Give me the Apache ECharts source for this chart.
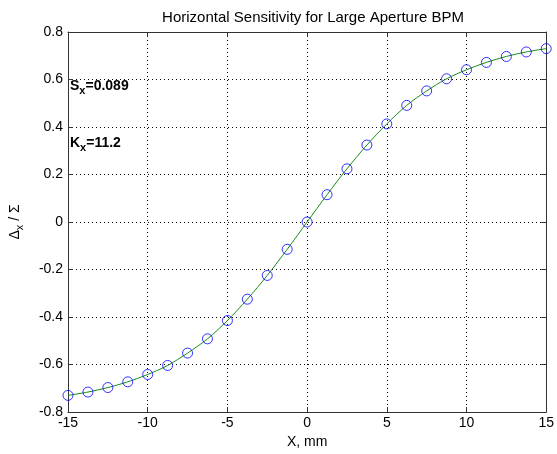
<!DOCTYPE html>
<html>
<head>
<meta charset="utf-8">
<script src="https://cdn.jsdelivr.net/npm/echarts@6/dist/echarts.min.js"></script>
<style>
html,body{margin:0;padding:0;background:#fff;}
#c{width:557px;height:454px;}
</style>
</head>
<body>
<div id="c"></div>
<script>
const xValues = [-15, -13.75, -12.5, -11.25, -10, -8.75, -7.5, -6.25, -5, -3.75, -2.5, -1.25, 0, 1.25, 2.5, 3.75, 5, 6.25, 7.5, 8.75, 10, 11.25, 12.5, 13.75, 15];
const yValues = [-0.730, -0.716, -0.697, -0.673, -0.642, -0.604, -0.552, -0.492, -0.415, -0.325, -0.225, -0.115, 0.000, 0.115, 0.224, 0.324, 0.413, 0.491, 0.552, 0.603, 0.641, 0.672, 0.697, 0.716, 0.730];
const titleText = 'Horizontal Sensitivity for Large Aperture BPM';
const xName = 'X, mm';
const sxText = '0.089';
const kxText = '11.2';

const pts = xValues.map((x, i) => [x, yValues[i]]);
const FONT = '"Liberation Sans", Arial, sans-serif';
const chart = echarts.init(document.getElementById('c'));

const baseX = {
  type: 'value', min: -15, max: 15, interval: 5,
  axisLine: {show: true, onZero: false, lineStyle: {color: '#333', width: 1}},
  axisTick: {show: true, inside: true, length: 5, lineStyle: {color: '#333'}},
  splitLine: {show: false}
};
const baseY = {
  type: 'value', min: -0.8, max: 0.8, interval: 0.2,
  axisLine: {show: true, onZero: false, lineStyle: {color: '#333', width: 1}},
  axisTick: {show: true, inside: true, length: 5, lineStyle: {color: '#333'}},
  splitLine: {show: false}
};

chart.setOption({
  backgroundColor: '#fff',
  animation: false,
  title: {
    text: titleText, left: 308, top: 5, textAlign: 'center',
    textStyle: {fontFamily: FONT, fontSize: 15, fontWeight: 'normal', color: '#000'}
  },
  grid: {left: 67, right: 6, top: 32, bottom: 42},
  xAxis: [
    Object.assign({}, baseX, {
      position: 'bottom',
      name: xName, nameLocation: 'middle', nameGap: 22,
      nameTextStyle: {fontFamily: FONT, fontSize: 14, color: '#000'},
      axisLabel: {fontFamily: FONT, fontSize: 14, color: '#000', margin: 4},
      splitLine: {show: true, lineStyle: {color: '#000', type: [1, 3], width: 1}}
    }),
    Object.assign({}, baseX, {position: 'top', axisLabel: {show: false}})
  ],
  yAxis: [
    Object.assign({}, baseY, {
      position: 'left',
      name: '{a|Δ}{s|x}{a| / Σ}', nameLocation: 'middle', nameGap: 43, nameRotate: 90,
      nameTextStyle: {
        rich: {
          a: {fontFamily: FONT, fontSize: 14, color: '#000'},
          s: {fontFamily: FONT, fontSize: 11, color: '#000', padding: [9, 0, 0, 0]}
        }
      },
      axisLabel: {fontFamily: FONT, fontSize: 14, color: '#000', margin: 5},
      splitLine: {show: true, lineStyle: {color: '#000', type: [1, 3], width: 1}}
    }),
    Object.assign({}, baseY, {position: 'right', axisLabel: {show: false}})
  ],
  graphic: [
    {
      type: 'text', left: 70, top: 79,
      style: {
        text: '{a|S}{s|x}{a|=' + sxText + '}',
        rich: {
          a: {fontFamily: FONT, fontSize: 14, fontWeight: 'bold', fill: '#000'},
          s: {fontFamily: FONT, fontSize: 11, fontWeight: 'bold', fill: '#000', padding: [9, 0, 0, 0]}
        }
      }
    },
    {
      type: 'text', left: 70, top: 136,
      style: {
        text: '{a|K}{s|x}{a|=' + kxText + '}',
        rich: {
          a: {fontFamily: FONT, fontSize: 14, fontWeight: 'bold', fill: '#000'},
          s: {fontFamily: FONT, fontSize: 11, fontWeight: 'bold', fill: '#000', padding: [9, 0, 0, 0]}
        }
      }
    }
  ],
  series: [
    {
      type: 'line', data: pts, smooth: 0.3, showSymbol: false,
      lineStyle: {color: '#1a8c1a', width: 1}, z: 2
    },
    {
      type: 'scatter', data: pts, symbol: 'circle', symbolSize: 10,
      itemStyle: {color: 'rgba(0,0,0,0)', borderColor: '#0000ff', borderWidth: 1},
      z: 3
    }
  ]
});
</script>
</body>
</html>
